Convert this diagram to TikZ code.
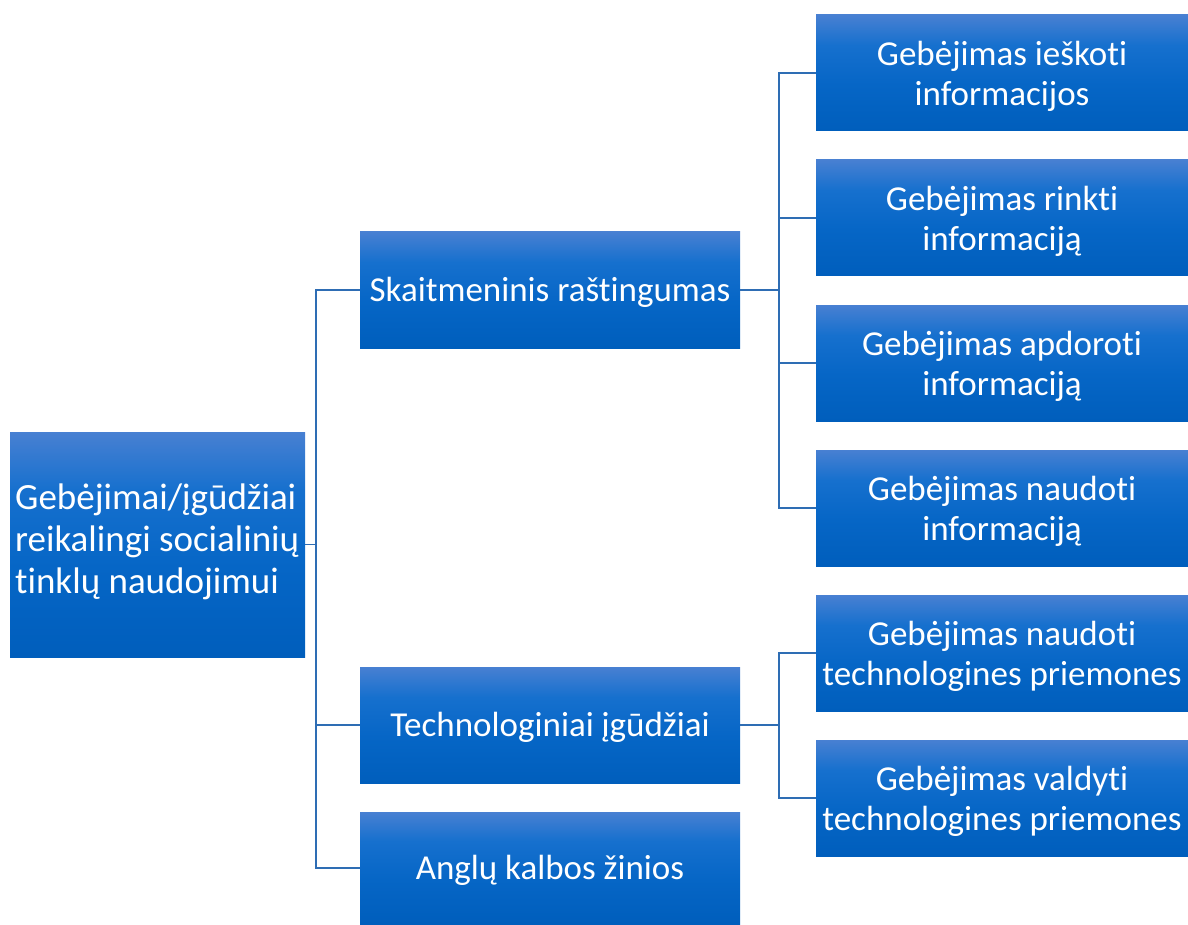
\documentclass[tikz,border=0pt]{standalone}
\usepackage{fontspec}
\setmainfont[Ligatures=NoCommon]{Carlito}
\definecolor{boxtop}{RGB}{72,128,210}
\definecolor{boxmidA}{RGB}{22,112,206}
\definecolor{boxmidB}{RGB}{6,102,198}
\definecolor{boxbot}{RGB}{0,94,188}
\definecolor{connc}{RGB}{46,109,180}
\pgfdeclareverticalshading{boxshade}{100bp}{color(0bp)=(boxbot); color(25bp)=(boxbot); color(45bp)=(boxmidB); color(62bp)=(boxmidA); color(75bp)=(boxtop); color(100bp)=(boxtop)}
\begin{document}
\begin{tikzpicture}[x=1pt,y=-1pt,
  box/.style={shading=boxshade, draw=none, inner sep=0pt},
  lbl/.style={text=white, inner sep=0pt, align=center, font=\fontsize{35}{40}\selectfont},
  conn/.style={draw=connc, line width=1.3pt}]
\useasboundingbox (0,0) rectangle (1188,925);
\node[box, minimum width=295pt, minimum height=225pt] (root) at (157.5,544.5) {};
\node[align=left, text=white, inner sep=0pt, font=\fontsize{37}{42}\selectfont, anchor=west] (roottxt) at (15,542) {Gebėjimai/įgūdžiai\\reikalingi socialinių\\tinklų naudojimui};
\node[box, minimum width=380pt, minimum height=116pt] (sk) at (550,290) {};
\node[lbl] (sktxt) at (550,292) {Skaitmeninis raštingumas};
\node[box, minimum width=380pt, minimum height=116pt] (tech) at (550,725) {};
\node[lbl] (techtxt) at (550,727) {Technologiniai įgūdžiai};
\node[box, minimum width=380pt, minimum height=112pt] (ang) at (550,868) {};
\node[lbl] (angtxt) at (550,870) {Anglų kalbos žinios};
\node[box, minimum width=372pt, minimum height=116pt] (r1) at (1002,73) {};
\node[lbl] (r1txt) at (1002,76) {Gebėjimas ieškoti\\informacijos};
\node[box, minimum width=372pt, minimum height=116pt] (r2) at (1002,218) {};
\node[lbl] (r2txt) at (1002,221) {Gebėjimas rinkti\\informaciją};
\node[box, minimum width=372pt, minimum height=116pt] (r3) at (1002,363) {};
\node[lbl] (r3txt) at (1002,366) {Gebėjimas apdoroti\\informaciją};
\node[box, minimum width=372pt, minimum height=116pt] (r4) at (1002,508) {};
\node[lbl] (r4txt) at (1002,511) {Gebėjimas naudoti\\informaciją};
\node[box, minimum width=372pt, minimum height=116pt] (r5) at (1002,653) {};
\node[lbl] (r5txt) at (1002,656) {Gebėjimas naudoti\\technologines priemones};
\node[box, minimum width=372pt, minimum height=116pt] (r6) at (1002,798) {};
\node[lbl] (r6txt) at (1002,801) {Gebėjimas valdyti\\technologines priemones};
\coordinate (j0) at (316,544.5);
\coordinate (j1) at (779,290);
\coordinate (j2) at (779,725);
\draw[conn] (root.east) -- (j0);
\draw[conn] (j0) |- (sk.west);
\draw[conn] (j0) |- (tech.west);
\draw[conn] (j0) |- (ang.west);
\draw[conn] (sk.east) -- (j1);
\foreach \r in {r1,r2,r3,r4} \draw[conn] (j1) |- (\r.west);
\draw[conn] (tech.east) -- (j2);
\foreach \r in {r5,r6} \draw[conn] (j2) |- (\r.west);
\end{tikzpicture}
\end{document}
